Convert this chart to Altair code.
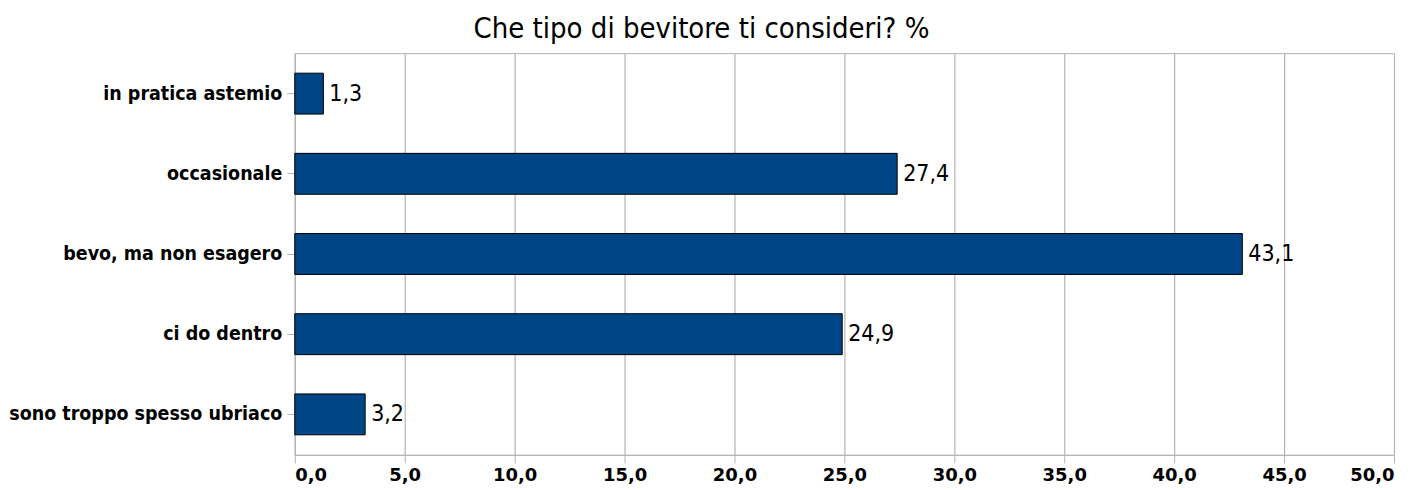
import altair as alt
import pandas as pd

categories = ["in pratica astemio", "occasionale", "bevo,  ma non esagero", "ci do dentro", "sono troppo spesso ubriaco"]
values = [1.3, 27.4, 43.1, 24.9, 3.2]
labels = [f"{v:.1f}".replace(".", ",") for v in values]

df = pd.DataFrame({"cat": categories, "val": values, "lab": labels})

COND = "DejaVu Sans Condensed, DejaVu Sans, sans-serif"
FONT = "DejaVu Sans, sans-serif"
GRID = "#b3b3b3"

y = alt.Y("cat:N", sort=categories, title=None,
          scale=alt.Scale(paddingInner=0.49, paddingOuter=0.25),
          axis=alt.Axis(labelFont=COND, labelFontSize=19.5, labelFontWeight="bold",
                        labelColor="black", labelPadding=5, labelLimit=400,
                        tickColor=GRID, tickSize=8, domainColor=GRID, grid=False))
x = alt.X("val:Q", title=None,
          scale=alt.Scale(domain=[0, 50], nice=False),
          axis=alt.Axis(values=[0, 5, 10, 15, 20, 25, 30, 35, 40, 45, 50],
                        labelExpr="replace(format(datum.value, '.1f'), '.', ',')",
                        labelFont=FONT, labelFontSize=18, labelFontWeight="bold",
                        labelColor="black", labelPadding=4, tickColor=GRID, tickSize=8,
                        domainColor=GRID, gridColor=GRID, gridWidth=1.2))

bars = alt.Chart(df).mark_bar(color="#004586", stroke="black", strokeWidth=1).encode(x=x, y=y)
text = alt.Chart(df).mark_text(align="left", baseline="middle", dx=6, font=COND,
                               fontSize=23, color="black").encode(x="val:Q", y=alt.Y("cat:N", sort=categories), text="lab:N")

chart = alt.layer(bars, text).properties(
    width=1100, height=402,
    title=alt.TitleParams("Che tipo di bevitore ti consideri? %", font=COND, fontSize=29,
                          fontWeight="normal", color="black", anchor="middle", dx=-143, offset=9),
    autosize=alt.AutoSizeParams(type="none"),
    padding={"left": 287, "top": 45, "right": 15, "bottom": 40},
).configure_view(stroke=GRID, strokeWidth=1)

chart.save("out.html", embed_options={"renderer": "svg", "actions": False})
